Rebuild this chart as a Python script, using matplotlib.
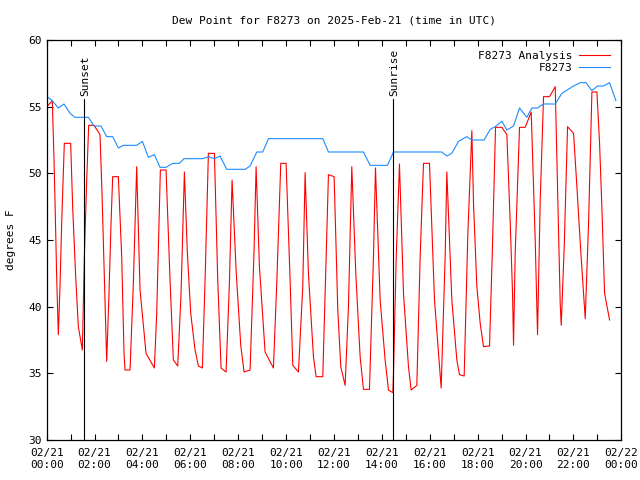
import matplotlib
matplotlib.use("Agg")
import matplotlib.pyplot as plt

# Horas desde 02/21 00:00 UTC y punto de rocío (°F)
analysis_h = [0.0, 0.237, 0.306, 0.348, 0.418, 0.487, 0.557, 0.627, 0.738, 1.003,
              1.086, 1.212, 1.323, 1.490, 1.574, 1.671, 1.755, 1.978, 2.228, 2.312,
              2.396, 2.507, 2.604, 2.688, 2.758, 2.994, 3.134, 3.231, 3.273, 3.482,
              3.621, 3.760, 3.900, 4.150, 4.499, 4.596, 4.749, 4.986, 5.153, 5.292,
              5.474, 5.613, 5.752, 5.877, 6.017, 6.198, 6.337, 6.504, 6.616, 6.755,
              7.006, 7.145, 7.284, 7.493, 7.632, 7.744, 7.911, 8.106, 8.245, 8.496,
              8.663, 8.747, 8.886, 9.123, 9.471, 9.610, 9.777, 10.0, 10.167, 10.279,
              10.515, 10.696, 10.794, 10.933, 11.142, 11.253, 11.532, 11.671, 11.769, 12.006,
              12.159, 12.284, 12.465, 12.604, 12.744, 12.911, 13.092, 13.231, 13.482, 13.649,
              13.733, 13.928, 14.136, 14.276, 14.457, 14.485, 14.596, 14.735, 14.903, 15.111,
              15.223, 15.460, 15.599, 15.738, 15.989, 16.198, 16.476, 16.643, 16.713, 16.922,
              17.131, 17.242, 17.437, 17.591, 17.758, 17.827, 17.967, 18.106, 18.245, 18.496,
              18.607, 18.747, 19.011, 19.220, 19.359, 19.457, 19.499, 19.568, 19.749, 19.986,
              20.237, 20.404, 20.501, 20.613, 20.752, 21.003, 21.240, 21.337, 21.448, 21.490,
              21.616, 21.755, 22.006, 22.145, 22.312, 22.465, 22.493, 22.632, 22.772, 22.981,
              23.092, 23.189, 23.301, 23.510]
analysis_f = [55.0, 55.43, 51.1, 48.0, 42.25, 37.9, 41.5, 46.25, 52.25, 52.25,
              47.5, 42.25, 38.5, 36.75, 43.75, 49.4, 53.6, 53.6, 52.9, 48.5,
              43.0, 35.9, 41.0, 46.25, 49.75, 49.75, 43.75, 36.5, 35.25, 35.25,
              41.75, 50.5, 41.25, 36.5, 35.4, 39.5, 50.25, 50.25, 42.0, 36.0,
              35.55, 41.0, 50.1, 44.0, 39.5, 36.75, 35.55, 35.4, 42.0, 51.5,
              51.5, 42.0, 35.4, 35.1, 41.75, 49.5, 42.75, 37.1, 35.1, 35.25,
              44.25, 50.5, 43.0, 36.6, 35.4, 41.75, 50.75, 50.75, 42.0, 35.6,
              35.1, 41.5, 50.05, 42.5, 36.25, 34.75, 34.75, 43.75, 49.9, 49.75,
              39.75, 35.5, 34.1, 40.0, 50.5, 42.5, 36.25, 33.8, 33.8, 43.75,
              50.4, 40.5, 36.0, 33.75, 33.55, 35.0, 43.5, 50.7, 41.0, 35.5,
              33.75, 34.1, 43.75, 50.75, 50.75, 40.5, 33.9, 43.75, 50.1, 40.5,
              36.0, 34.9, 34.8, 45.5, 53.2, 47.75, 41.5, 38.75, 37.0, 37.05,
              43.75, 53.45, 53.45, 52.9, 46.4, 41.0, 37.1, 44.0, 53.45, 53.45,
              54.6, 45.0, 37.9, 48.0, 55.75, 55.75, 56.5, 49.0, 40.25, 38.6,
              44.5, 53.5, 53.0, 49.0, 44.0, 39.75, 39.1, 46.25, 56.1, 56.1,
              52.25, 47.4, 41.0, 39.0]

obs_h = [0.0, 0.209, 0.487, 0.724, 0.975, 1.184, 1.741, 1.978, 2.270, 2.507,
         2.758, 2.994, 3.203, 3.760, 3.997, 4.248, 4.499, 4.735, 4.986, 5.265,
         5.543, 5.738, 6.518, 6.755, 7.006, 7.242, 7.521, 8.287, 8.496, 8.774,
         9.025, 9.262, 11.532, 11.769, 13.231, 13.510, 14.234, 14.485, 16.504, 16.713,
         16.922, 17.201, 17.549, 17.758, 18.273, 18.524, 18.733, 19.011, 19.220, 19.499,
         19.749, 20.056, 20.265, 20.502, 20.752, 21.240, 21.518, 22.006, 22.284, 22.521,
         22.772, 23.008, 23.259, 23.510, 23.774]
obs_f = [55.75, 55.5, 54.9, 55.2, 54.5, 54.2, 54.2, 53.55, 53.55, 52.75,
         52.75, 51.9, 52.1, 52.1, 52.4, 51.2, 51.4, 50.45, 50.45, 50.75,
         50.75, 51.1, 51.1, 51.25, 51.1, 51.3, 50.3, 50.3, 50.55, 51.6,
         51.6, 52.6, 52.6, 51.6, 51.6, 50.6, 50.6, 51.6, 51.6, 51.3,
         51.5, 52.4, 52.75, 52.5, 52.5, 53.3, 53.5, 53.9, 53.25, 53.55,
         54.9, 54.2, 54.9, 54.9, 55.2, 55.2, 56.0, 56.55, 56.8, 56.8,
         56.2, 56.55, 56.55, 56.8, 55.45]

sun_events = ["Sunset", "Sunrise"]
sun_h = [1.574, 14.485]

tick_h = list(range(0, 25, 2))
tick_labels = ["02/21\n%02d:00" % h for h in range(0, 24, 2)] + ["02/22\n00:00"]

plt.rcParams["font.family"] = "DejaVu Sans Mono"
plt.rcParams["font.size"] = 8

fig = plt.figure(figsize=(6.4, 4.8), dpi=100)
ax = fig.add_axes([0.0729, 0.0833, 0.8979, 0.8334])

ax.plot(analysis_h, analysis_f, color="#ff0000", linewidth=0.8, label="F8273 Analysis")
ax.plot(obs_h, obs_f, color="#1a8cff", linewidth=0.8, label="F8273")

for name, h in zip(sun_events, sun_h):
    ax.plot([h, h], [30, 55.6], color="black", linewidth=0.8)
    ax.text(h + 0.04, 55.8, name, rotation=90, ha="center", va="bottom", fontsize=8)

ax.set_xlim(0, 24)
ax.set_ylim(30, 60)
ax.set_xticks(tick_h)
ax.set_xticklabels(tick_labels)
ax.set_xticks(range(0, 25), minor=True)
ax.set_yticks(range(30, 61, 5))
ax.tick_params(which="both", direction="in", top=True, right=True, length=4, width=0.8)
ax.tick_params(axis="x", pad=6)
ax.set_ylabel("degrees F", labelpad=9)
ax.set_title("Dew Point for F8273 on 2025-Feb-21 (time in UTC)", fontsize=8, pad=12)
for s in ax.spines.values():
    s.set_linewidth(0.9)

ax.legend(loc="upper right", frameon=False, markerfirst=False, handlelength=2.8,
          borderaxespad=0.6, labelspacing=0.2, handletextpad=0.6)

fig.savefig("out.png", dpi=100)
